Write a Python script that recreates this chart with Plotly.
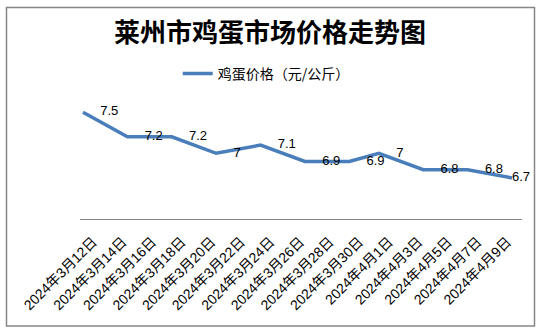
import plotly.graph_objects as go
from datetime import datetime, timedelta

# ---- data ----
dates = ["2024-03-12", "2024-03-15", "2024-03-18", "2024-03-21", "2024-03-24",
         "2024-03-27", "2024-03-30", "2024-04-01", "2024-04-04", "2024-04-07",
         "2024-04-10"]
prices = [7.5, 7.2, 7.2, 7.0, 7.1, 6.9, 6.9, 7.0, 6.8, 6.8, 6.7]
price_labels = ["7.5", "7.2", "7.2", "7", "7.1", "6.9", "6.9", "7", "6.8", "6.8", "6.7"]
tick_vals = ["2024-03-12", "2024-03-14", "2024-03-16", "2024-03-18", "2024-03-20",
             "2024-03-22", "2024-03-24", "2024-03-26", "2024-03-28", "2024-03-30",
             "2024-04-01", "2024-04-03", "2024-04-05", "2024-04-07", "2024-04-09"]
tick_text = ["2024年3月12日", "2024年3月14日", "2024年3月16日", "2024年3月18日",
             "2024年3月20日", "2024年3月22日", "2024年3月24日", "2024年3月26日",
             "2024年3月28日", "2024年3月30日", "2024年4月1日", "2024年4月3日",
             "2024年4月5日", "2024年4月7日", "2024年4月9日"]
series_name = "鸡蛋价格（元/公斤）"
title_text = "莱州市鸡蛋市场价格走势图"

W, H = 540, 329
ML, MR, MT, MB = 80, 18, 103.5, 110
PW = W - ML - MR
PH = H - MT - MB

FONT = "Liberation Sans, Arial, Noto Sans CJK SC, sans-serif"

n = len(prices)
marker_sizes = [26] * (n - 1) + [0]

fig = go.Figure()
fig.add_trace(go.Scatter(
    x=dates, y=prices, name=series_name,
    mode="lines+markers+text",
    line=dict(color="#4A7EBB", width=3.5),
    marker=dict(size=marker_sizes, color="rgba(0,0,0,0)", opacity=0,
                line=dict(width=0, color="rgba(0,0,0,0)")),
    text=price_labels, textposition="middle right",
    textfont=dict(family=FONT, size=13, color="#000000"),
    cliponaxis=False,
))

x0 = datetime(2024, 3, 12) - timedelta(hours=4.9)
x1 = datetime(2024, 4, 10) + timedelta(hours=16.2)

def px_x(p):
    return (p - ML) / PW

def px_y(p):
    return (H - MB - p) / PH

fig.add_shape(type="rect", xref="paper", yref="paper",
              x0=px_x(6.5), x1=px_x(534.5), y0=px_y(326.5), y1=px_y(6.5),
              line=dict(color="#868686", width=1.5), fillcolor="rgba(0,0,0,0)",
              layer="below")

fig.update_layout(
    width=W, height=H,
    margin=dict(l=ML, r=MR, t=MT, b=MB),
    paper_bgcolor="white", plot_bgcolor="white",
    title=dict(text="<b>" + title_text + "</b>", x=0.5, xanchor="center",
               xref="container", y=1 - 33 / H, yanchor="middle", yref="container",
               font=dict(family="Noto Sans CJK SC", size=26, color="#000000")),
    showlegend=True,
    legend=dict(orientation="h", x=0.493, xanchor="center", xref="container",
                y=1 - 74 / H, yanchor="middle", yref="container",
                font=dict(family="Noto Sans CJK SC", size=14, color="#000000"),
                itemwidth=30, bgcolor="rgba(0,0,0,0)"),
    xaxis=dict(type="date", range=[x0, x1], showgrid=False, zeroline=False,
               showline=True, linecolor="#868686", linewidth=1,
               tickmode="array", tickvals=tick_vals, ticktext=tick_text,
               tickangle=-45, ticks="",
               tickfont=dict(family=FONT, size=14, color="#000000"),
               ticklabelshift=10, ticklabelstandoff=8),
    yaxis=dict(range=[6.2, 7.6], visible=False, showgrid=False, zeroline=False),
)

fig.write_html("out.html")
